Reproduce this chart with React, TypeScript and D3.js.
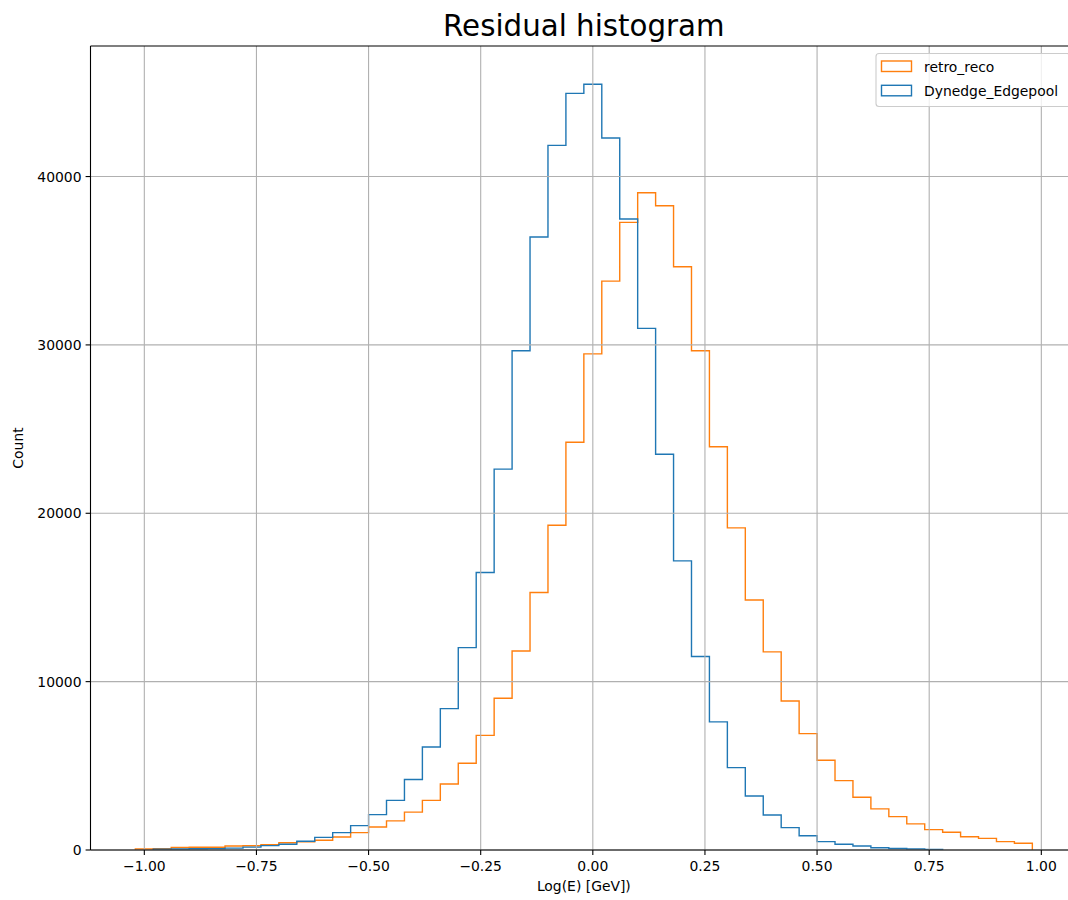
import React from "react";
import * as d3 from "d3";

// ---- Data ----
const BIN_WIDTH = 0.04;
const retroStart = -1.02; // left edge of first retro_reco bin
const retroRecoCounts = [
  60, 70, 150, 160, 160, 240, 250, 320, 430, 480,
  580, 770, 1030, 1370, 1730, 2250, 2950, 3920, 5150, 6810,
  9010, 11820, 15290, 19290, 24220, 29470, 33790, 37280, 39040, 38270,
  34640, 29650, 23950, 19130, 14850, 11770, 8850, 6910, 5330, 4120,
  3130, 2440, 1980, 1550, 1210, 1050, 790, 690, 500, 400,
];
const dynStart = -0.98; // left edge of first Dynedge_Edgepool bin
const dynedgeCounts = [
  50, 60, 70, 80, 110, 170, 260, 340, 520,
  750, 1030, 1450, 2100, 2950, 4190, 6120, 8400, 12020, 16480,
  22620, 29650, 36410, 41850, 44940, 45480, 42290, 37480, 30980, 23510,
  17170, 11490, 7610, 4890, 3210, 2080, 1330, 850, 500, 340,
  240, 130, 90, 60, 40,
];
const xTicks = [-1.0, -0.75, -0.5, -0.25, 0.0, 0.25, 0.5, 0.75, 1.0];
const yTicks = [0, 10000, 20000, 30000, 40000];
const seriesNames = ["retro_reco", "Dynedge_Edgepool"];
const seriesColors = ["#ff7f0e", "#1f77b4"];

// ---- Layout ----
const W = 1068;
const H = 900;
const left = 90.5;
const right = 1077.2;
const top = 46;
const bottom = 850;
const FONT = "DejaVu Sans, sans-serif";

const x = d3.scaleLinear().domain([-1.12, 1.08]).range([left, right]);
const yMax = 45480 * 1.05;
const y = d3.scaleLinear().domain([0, yMax]).range([bottom, top]);

function stepPath(start: number, counts: number[]): string {
  const pts: [number, number][] = [];
  pts.push([start, 0]);
  counts.forEach((c, i) => pts.push([start + i * BIN_WIDTH, c]));
  const end = start + counts.length * BIN_WIDTH;
  pts.push([end, counts[counts.length - 1]]);
  pts.push([end, 0]);
  const line = d3
    .line<[number, number]>()
    .x((d) => x(d[0]))
    .y((d) => y(d[1]))
    .curve(d3.curveStepAfter);
  return line(pts) || "";
}

const fmtX = (v: number) => (v < 0 ? "\u2212" : "") + Math.abs(v).toFixed(2);

export default function App() {
  const series = [
    { name: seriesNames[0], color: seriesColors[0], d: stepPath(retroStart, retroRecoCounts) },
    { name: seriesNames[1], color: seriesColors[1], d: stepPath(dynStart, dynedgeCounts) },
  ];
  return (
    <svg
      width={W}
      height={H}
      style={{ position: "absolute", left: 0, top: 0, background: "#fff" }}
      fontFamily={FONT}
    >
      <rect x={0} y={0} width={W} height={H} fill="#fff" />
      {/* histograms */}
      {series.map((s) => (
        <path key={s.name} d={s.d} fill="none" stroke={s.color} strokeWidth={1.4} />
      ))}
      {/* grid */}
      {xTicks.map((t) => (
        <line key={"gx" + t} x1={x(t)} x2={x(t)} y1={top} y2={bottom} stroke="#b0b0b0" strokeWidth={1.1} />
      ))}
      {yTicks.map((t) => (
        <line key={"gy" + t} x1={left} x2={right} y1={y(t)} y2={y(t)} stroke="#b0b0b0" strokeWidth={1.1} />
      ))}
      {/* spines */}
      <line x1={left} x2={left} y1={top} y2={bottom} stroke="#000" strokeWidth={1.1} />
      <line x1={left} x2={right} y1={bottom} y2={bottom} stroke="#000" strokeWidth={1.1} />
      <line x1={left} x2={right} y1={top} y2={top} stroke="#000" strokeWidth={1.1} />
      <line x1={right} x2={right} y1={top} y2={bottom} stroke="#000" strokeWidth={1.1} />
      {/* x ticks */}
      {xTicks.map((t) => (
        <g key={"tx" + t}>
          <line x1={x(t)} x2={x(t)} y1={bottom} y2={bottom + 4.9} stroke="#000" strokeWidth={1.1} />
          <text x={x(t)} y={bottom + 21} textAnchor="middle" fontSize={13.9} fill="#000">
            {fmtX(t)}
          </text>
        </g>
      ))}
      {/* y ticks */}
      {yTicks.map((t) => (
        <g key={"ty" + t}>
          <line x1={left - 4.9} x2={left} y1={y(t)} y2={y(t)} stroke="#000" strokeWidth={1.1} />
          <text x={left - 9} y={y(t)} dy="0.36em" textAnchor="end" fontSize={13.9} fill="#000">
            {t}
          </text>
        </g>
      ))}
      {/* axis labels */}
      <text x={(left + right) / 2} y={891} textAnchor="middle" fontSize={13.9} fill="#000">
        Log(E) [GeV])
      </text>
      <text
        transform={`translate(23,${(top + bottom) / 2}) rotate(-90)`}
        textAnchor="middle"
        fontSize={13.9}
        fill="#000"
      >
        Count
      </text>
      {/* title */}
      <text x={(left + right) / 2} y={36} textAnchor="middle" fontSize={29.3} fill="#000">
        Residual histogram
      </text>
      {/* legend */}
      <g>
        <rect x={876} y={53.5} width={194} height={53} rx={3} fill="#fff" fillOpacity={0.8} stroke="#cccccc" strokeWidth={1.1} />
        {series.map((s, i) => (
          <g key={"lg" + s.name}>
            <rect x={881.5} y={61 + i * 24.3} width={30} height={10.5} fill="none" stroke={s.color} strokeWidth={1.4} />
            <text x={924} y={71.5 + i * 24.3} fontSize={13.9} fill="#000">
              {s.name}
            </text>
          </g>
        ))}
      </g>
    </svg>
  );
}
